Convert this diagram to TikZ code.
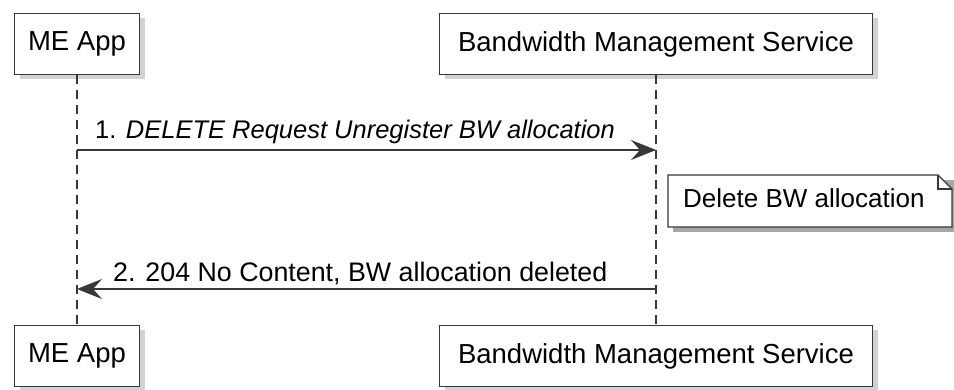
\documentclass[tikz,border=0pt]{standalone}
\usepackage{fontspec}
\setmainfont{Liberation Sans}
\usetikzlibrary{shadows,arrows.meta}
\definecolor{umlline}{HTML}{383838}

\begin{document}
\begin{tikzpicture}[x=1pt,y=-1pt,
    part/.style={draw=umlline,line width=1.6pt,fill=white,minimum height=61pt,inner xsep=12pt,
        font=\fontsize{27.5}{32}\selectfont,drop shadow={shadow xshift=5pt,shadow yshift=-5pt,fill=black!35}},
    life/.style={draw=umlline,line width=1.2pt,dash pattern=on 9pt off 6pt},
    msg/.style={draw=umlline,line width=1.4pt,-{Stealth[length=25pt,width=20pt,inset=9pt]}},
    lbl/.style={text=black,inner sep=0pt,anchor=base west}]
                \useasboundingbox (0,0) rectangle (954,390);
                \node[part,minimum width=125pt] (meTop) at (77,44) {ME App};
                \node[part,minimum width=433pt] (bmsTop) at (656,44) {Bandwidth Management Service};
                \node[part,minimum width=125pt] (meBot) at (77,356) {ME App};
                \node[part,minimum width=433pt] (bmsBot) at (656,356) {Bandwidth Management Service};

                \path[life] (meTop) edge (meBot);
                \path[life] (bmsTop) edge (bmsBot);

                \coordinate (m1a) at (77,150);
                \coordinate (m1b) at (656,150);
                \coordinate (m2a) at (656,289);
                \coordinate (m2b) at (77,289);
                \draw[msg] (m1a) -- (m1b);
                \draw[msg] (m2a) -- (m2b);
                \node[lbl,font=\fontsize{25.5}{30}\selectfont] (l1) at (95,139) {1. \textit{DELETE Request Unregister BW allocation}};
                \node[lbl,font=\fontsize{26.8}{30}\selectfont] (l2) at (113,282) {2. 204 No Content, BW allocation deleted};

                % note box
                \fill[black!35] (673,180) -- (959,180) -- (959,232) -- (673,232) -- cycle;
                \draw[umlline,line width=1.4pt,fill=white] (668,175) -- (938,175) -- (952,189) -- (952,227) -- (668,227) -- cycle;
                \draw[umlline,line width=1.4pt] (938,175) -- (938,189) -- (952,189);
                \node[lbl,font=\fontsize{26}{30}\selectfont] (note) at (683,208) {Delete BW allocation};
            \end{tikzpicture}
\end{document}
